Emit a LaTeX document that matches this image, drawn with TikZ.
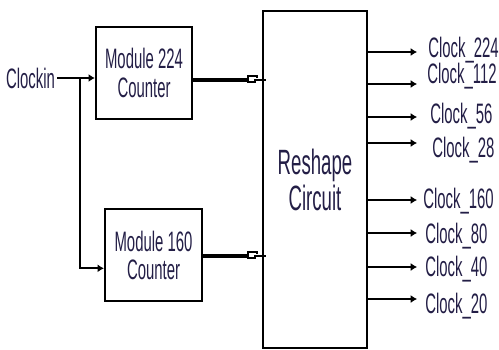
\documentclass[tikz,border=0pt]{standalone}
\usepackage{fontspec}
\newfontfamily\narrowsf[FakeStretch=0.53]{Liberation Sans}
\usetikzlibrary{arrows.meta}
\definecolor{ink}{RGB}{35,30,70}
\begin{document}
\begin{tikzpicture}[x=0.02cm,y=-0.02cm,
  box/.style={draw,line width=1.3pt,inner sep=0pt,align=center,text=ink,
    font=\narrowsf\fontsize{16pt}{16pt}\selectfont},
  lbl/.style={inner sep=0pt,text=ink,font=\narrowsf\fontsize{16pt}{16pt}\selectfont},
  sig/.style={line width=1pt},
  arr/.style={sig,-{Latex[length=3.6pt,width=4.6pt]}},
  bus/.style={line width=2.6pt}]
\useasboundingbox (0,0) rectangle (499,349);
% blocks
\node[box,minimum width=1.92cm,minimum height=1.84cm] (m224) at (144,73) {Module 224\\Counter};
\node[box,minimum width=1.94cm,minimum height=1.84cm] (m160) at (153.5,255) {Module 160\\Counter};
\node[box,minimum width=2.08cm,minimum height=6.74cm,
  font=\narrowsf\fontsize{20pt}{20.5pt}\selectfont] (reshape) at (315,179.5) {Reshape\\Circuit};
% clock input
\node[lbl,anchor=east,inner sep=1pt] (clkin) at (57,78) {Clockin};
\coordinate (split) at (80,78);
\draw[arr] (clkin.east) -- (clkin.east -| m224.west);
\draw[arr] (split) |- (m160.195);
% buses into the reshape circuit
\foreach \m/\y in {m224/80,m160/256}{
  \coordinate (p\m) at (248,\y);
  \draw[bus] (\m.east |- p\m) -- (p\m);
  \draw[sig] (p\m) ++(7,-1) -- ++(0,3) -- ++(-7,0) -- ++(0,-6) -- ++(9,0) -- ++(0,2);
  \draw[sig] (p\m) ++(7,0) -- (reshape.west |- p\m) -- ++(4,0);
}
% outputs
\foreach \n/\ya/\yl/\xl in {224/52/57/428,112/84/83/427,56/117/123/430,28/143/157/432,
  160/200/208/423,80/233/243/425,40/267/276/425,20/299/313/425}{
  \node[lbl,anchor=base west] (c\n) at (\xl,\yl) {Clock\_\n};
  \coordinate (t\n) at (417,\ya);
  \draw[arr] (reshape.east |- t\n) -- (t\n);
}
\end{tikzpicture}
\end{document}
